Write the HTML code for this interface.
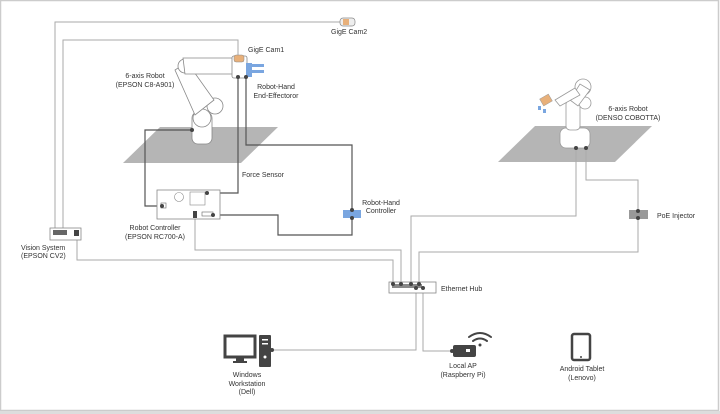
<!DOCTYPE html>
<html><head><meta charset="utf-8"><style>
html,body{margin:0;padding:0;background:#fff}
svg{display:block}
text{font-family:"Liberation Sans",sans-serif;font-size:7px;fill:#333}
</style></head><body>
<svg width="720" height="414" viewBox="0 0 720 414" xmlns="http://www.w3.org/2000/svg">
<rect x="0.5" y="0.5" width="718" height="410" fill="#fff" stroke="#ccc" stroke-width="1.5"/>
<rect x="0" y="411" width="720" height="3" fill="#ddd"/>
<polygon points="123,163 160,127 278,127 241,163" fill="#b5b5b5"/>
<polygon points="498,162 535,126 652,126 615,162" fill="#b5b5b5"/>
<g fill="none" stroke="#aaa" stroke-width="1">
<polyline points="55,230 55,22 340,22"/>
<polyline points="63,230 63,40 238,40 238,57"/>
<polyline points="77,232 77,260 393,260 393,283"/>
<polyline points="195,215 195,250 401,250 401,283"/>
<polyline points="576,148 576,216 411,216 411,283"/>
<polyline points="586,148 586,180 638,180 638,252 419,252 419,283"/>
<polyline points="416,290 416,350 272,350"/>
<polyline points="423,290 423,351 452,351"/>
</g>
<g fill="none" stroke="#555" stroke-width="1.2">
<polyline points="192,130 145,130 145,206 162,206"/>
<polyline points="238,77 238,193 207,193"/>
<polyline points="246,77 246,145 352,145 352,210"/>
<polyline points="352,218 352,235 278,235 278,215 213,215"/>
</g>
<g fill="#fff" stroke="#888" stroke-width="0.8">
<rect x="192" y="112" width="20" height="32" rx="6"/>
<circle cx="202" cy="118" r="9"/>
<circle cx="215" cy="106" r="8"/>
<path d="M195,115 L175,70 L187,62 L214,100 Z"/>
<circle cx="185" cy="66" r="7"/>
<path d="M183,58 L235,58 L235,74 L185,74 Z"/>
<rect x="232" y="56" width="15" height="22" rx="2"/>
</g>
<rect x="234" y="55" width="10" height="7" rx="2" fill="#e8b07a" stroke="#888" stroke-width="0.5"/>
<rect x="246" y="63" width="6" height="14" fill="#7aa6e0"/>
<rect x="251" y="64" width="13" height="3" fill="#7aa6e0"/>
<rect x="251" y="70" width="13" height="3" fill="#7aa6e0"/>
<rect x="340" y="18" width="15" height="8" rx="3" fill="#eee" stroke="#888" stroke-width="0.7"/>
<rect x="343" y="19" width="6" height="6" fill="#e8b07a"/>
<rect x="157" y="190" width="63" height="29" fill="#fff" stroke="#888" stroke-width="0.8"/>
<circle cx="179" cy="197" r="4.5" fill="#fff" stroke="#888" stroke-width="0.6"/>
<rect x="190" y="192" width="15" height="13" fill="#fff" stroke="#888" stroke-width="0.6"/>
<rect x="161" y="203" width="5" height="5" fill="#fff" stroke="#666" stroke-width="0.6"/>
<rect x="202" y="212" width="11" height="4" fill="#fff" stroke="#666" stroke-width="0.6"/>
<rect x="193" y="211" width="4" height="7" fill="#444"/>
<rect x="343" y="210" width="18" height="8" fill="#7aa6e0"/>
<rect x="50" y="228" width="31" height="12" fill="#fff" stroke="#888" stroke-width="0.8"/>
<rect x="53" y="230" width="14" height="5" fill="#666"/>
<rect x="74" y="230" width="5" height="6" fill="#444"/>
<g fill="#fff" stroke="#999" stroke-width="0.8">
<rect x="560" y="128" width="30" height="20" rx="6"/>
<rect x="566" y="100" width="14" height="30" rx="4"/>
<circle cx="583" cy="87" r="8"/>
<circle cx="585" cy="103" r="6"/>
<path d="M570,100 L580,84 L590,90 L578,106 Z"/>
<path d="M575,88 L555,100 L560,106 L580,95 Z"/>
</g>
<rect x="541" y="96" width="10" height="8" fill="#e8b07a" stroke="#999" stroke-width="0.5" transform="rotate(-30 546 100)"/>
<rect x="538" y="106" width="3" height="4" fill="#7aa6e0"/><rect x="543" y="109" width="3" height="4" fill="#7aa6e0"/>
<rect x="629" y="210" width="19" height="9" fill="#999"/>
<rect x="389" y="282" width="47" height="11" fill="#fff" stroke="#888" stroke-width="0.8"/>
<rect x="392" y="284" width="30" height="4" fill="#888"/>
<g fill="#444">
<circle cx="192" cy="130" r="2"/><circle cx="238" cy="77" r="2"/><circle cx="246" cy="77" r="2"/>
<circle cx="162" cy="206" r="2"/><circle cx="207" cy="193" r="2"/><circle cx="213" cy="215" r="2"/>
<circle cx="352" cy="210" r="2"/><circle cx="352" cy="218" r="2"/><circle cx="77" cy="234" r="2"/>
<circle cx="576" cy="148" r="2"/><circle cx="586" cy="148" r="2"/><circle cx="638" cy="211" r="2"/><circle cx="638" cy="218" r="2"/>
<circle cx="393" cy="284" r="2"/><circle cx="401" cy="284" r="2"/><circle cx="411" cy="284" r="2"/><circle cx="419" cy="284" r="2"/>
<circle cx="416" cy="288" r="2"/><circle cx="423" cy="288" r="2"/>
<circle cx="272" cy="350" r="2"/><circle cx="452" cy="351" r="2"/>
</g>
<rect x="225" y="336" width="30" height="21" fill="#fff" stroke="#444" stroke-width="3"/>
<rect x="236" y="357" width="8" height="4" fill="#444"/>
<rect x="233" y="361" width="14" height="2" fill="#444"/>
<rect x="259" y="335" width="12" height="32" rx="1" fill="#444"/>
<rect x="262" y="339" width="6" height="1.5" fill="#fff"/><rect x="262" y="343" width="6" height="1.5" fill="#fff"/>
<circle cx="265" cy="357" r="1.5" fill="#fff"/>
<rect x="453" y="345" width="23" height="12" rx="2" fill="#444"/>
<rect x="466" y="349" width="4" height="3" fill="#fff"/>
<g fill="none" stroke="#444" stroke-width="2" stroke-linecap="round">
<path d="M469,337 Q480,329 491,337"/><path d="M473,341 Q480,336 487,341"/>
</g>
<circle cx="480" cy="345" r="1.5" fill="#444"/>
<rect x="572" y="334" width="18" height="26" rx="2" fill="#fff" stroke="#444" stroke-width="2.5"/>
<circle cx="581" cy="357" r="1" fill="#444"/>
<g text-anchor="middle">
<text x="145" y="78">6-axis Robot</text><text x="145" y="87">(EPSON C8-A901)</text>
<text x="276" y="89">Robot-Hand</text><text x="276" y="98">End-Effectoror</text>
<text x="155" y="230">Robot Controller</text><text x="155" y="239">(EPSON RC700-A)</text>
<text x="381" y="205">Robot-Hand</text><text x="381" y="213">Controller</text>
<text x="628" y="111">6-axis Robot</text><text x="628" y="120">(DENSO COBOTTA)</text>
<text x="247" y="377">Windows</text><text x="247" y="386">Workstation</text><text x="247" y="394">(Dell)</text>
<text x="463" y="368">Local AP</text><text x="463" y="377">(Raspberry Pi)</text>
<text x="582" y="371">Android Tablet</text><text x="582" y="380">(Lenovo)</text>
</g>
<text x="248" y="52">GigE Cam1</text>
<text x="331" y="34">GigE Cam2</text>
<text x="242" y="177">Force Sensor</text>
<text x="21" y="250">Vision System</text><text x="21" y="258">(EPSON CV2)</text>
<text x="441" y="291">Ethernet Hub</text>
<text x="657" y="218">PoE Injector</text>
</svg>
</body></html>
